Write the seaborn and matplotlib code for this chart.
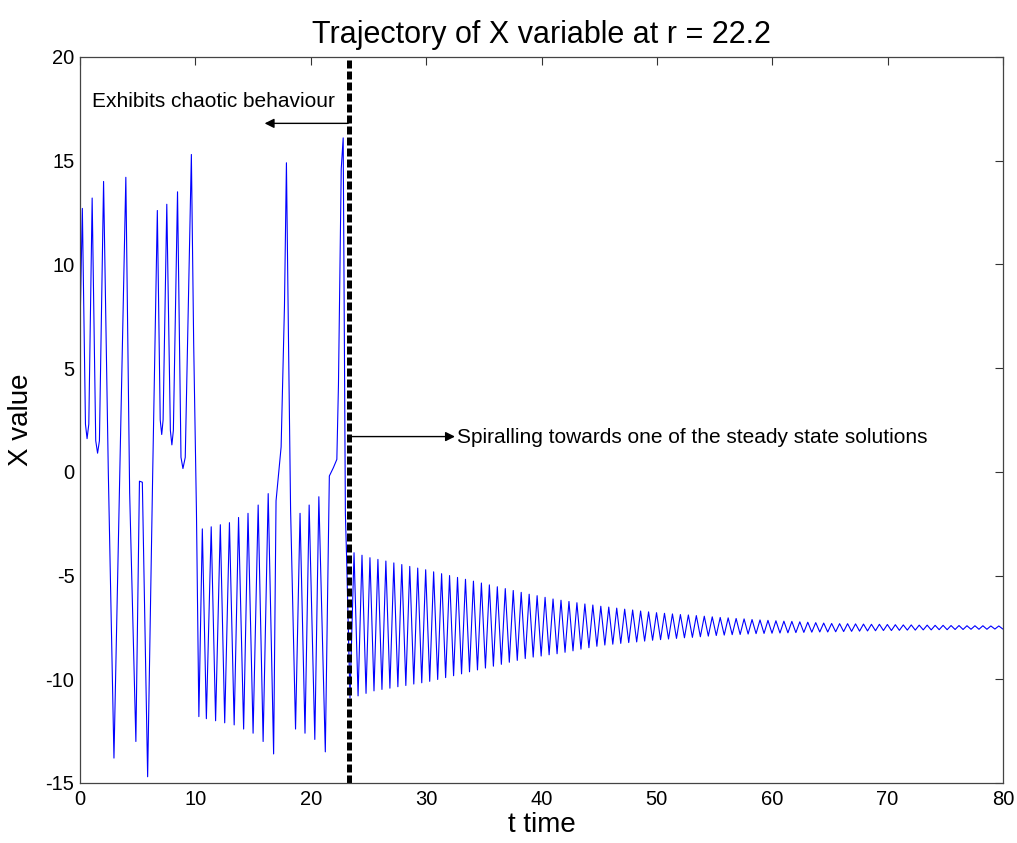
import numpy as np
import pandas as pd
import matplotlib
matplotlib.use("Agg")
import matplotlib.pyplot as plt
import seaborn as sns

# Lorenz x(t) at r = 22.2, read off the picture as turning points
# chaotic part: (t, x) turning points and shoulders
chaos_t = [0.0, 0.2, 0.47, 0.61, 0.76, 1.05, 1.36, 1.52, 1.68, 2.04, 2.45, 2.94,
           3.45, 3.97, 4.3, 4.84, 5.15, 5.4, 5.86, 6.3, 6.7, 6.95, 7.08, 7.2,
           7.52, 7.83, 7.96, 8.09, 8.45, 8.75, 8.92, 9.12, 9.65, 9.85,
           10.09, 10.3, 10.6, 10.95, 11.37, 11.75, 12.16, 12.54, 12.95, 13.36,
           13.74, 14.18, 14.56, 15.0, 15.44, 15.87, 16.31, 16.78, 16.99, 17.19,
           17.43, 17.72, 17.89, 18.07, 18.25, 18.68, 19.07, 19.5, 19.86, 20.35,
           20.7, 21.26, 21.61, 21.96, 22.26, 22.4, 22.64, 22.81, 23.0, 23.1, 23.4]
chaos_x = [7.0, 12.7, 2.3, 1.6, 2.3, 13.2, 1.5, 0.9, 1.5, 14.0, 0.0, -13.8,
           0.0, 14.2, -1.0, -13.0, -0.45, -0.5, -14.7, 0.0, 12.6, 2.5, 1.8, 2.5,
           12.9, 2.0, 1.3, 2.0, 13.5, 0.7, 0.16, 0.7, 15.3, 6.2,
           -1.9, -11.8, -2.75, -11.9, -2.65, -12.0, -2.55, -12.1, -2.45, -12.2,
           -2.2, -12.4, -2.0, -12.6, -1.6, -13.0, -1.05, -13.6, -1.4, -0.2,
           1.2, 8.0, 14.9, 6.3, -1.8, -12.4, -2.0, -12.6, -1.6, -12.9,
           -1.2, -13.5, -0.2, 0.2, 0.6, 4.2, 14.6, 16.1, -2.0, -4.0, -10.9]

# spiralling part: upper and lower turning points
peak_t = [23.75, 24.44, 25.13, 25.82, 26.51, 27.20, 27.89, 28.58, 29.27, 29.96,
          30.65, 31.34, 32.03, 32.72, 33.41, 34.10, 34.79, 35.48, 36.17, 36.86,
          37.55, 38.24, 38.93, 39.62, 40.31, 41.00, 41.69, 42.38, 43.07, 43.76,
          44.45, 45.14, 45.83, 46.52, 47.21, 47.90, 48.59, 49.28, 49.97, 50.66,
          51.35, 52.04, 52.73, 53.42, 54.11, 54.80, 55.49, 56.18, 56.87, 57.56,
          58.25, 58.94, 59.63, 60.32, 61.01, 61.70, 62.39, 63.08, 63.77, 64.46,
          65.15, 65.84, 66.53, 67.22, 67.91, 68.60, 69.29, 69.98, 70.67, 71.36,
          72.05, 72.74, 73.43, 74.12, 74.81, 75.50, 76.19, 76.88, 77.57, 78.26,
          78.95, 79.64]
peak_x = [-3.90, -4.02, -4.14, -4.22, -4.30, -4.39, -4.47, -4.56, -4.64, -4.72,
          -4.82, -4.91, -5.00, -5.09, -5.18, -5.27, -5.36, -5.45, -5.54, -5.63,
          -5.72, -5.81, -5.90, -5.97, -6.05, -6.13, -6.19, -6.25, -6.31, -6.37,
          -6.42, -6.48, -6.52, -6.57, -6.62, -6.66, -6.71, -6.75, -6.79, -6.82,
          -6.85, -6.88, -6.90, -6.93, -6.96, -6.99, -7.02, -7.04, -7.07, -7.09,
          -7.12, -7.14, -7.16, -7.18, -7.20, -7.21, -7.23, -7.25, -7.27, -7.29,
          -7.31, -7.32, -7.32, -7.33, -7.34, -7.35, -7.35, -7.36, -7.37, -7.38,
          -7.38, -7.39, -7.39, -7.40, -7.40, -7.41, -7.41, -7.42, -7.42, -7.42,
          -7.43, -7.43]
trough_t = [24.10, 24.79, 25.48, 26.17, 26.86, 27.55, 28.24, 28.93, 29.62, 30.31,
            31.00, 31.69, 32.38, 33.07, 33.76, 34.45, 35.14, 35.83, 36.52, 37.21,
            37.90, 38.59, 39.28, 39.97, 40.66, 41.35, 42.04, 42.73, 43.42, 44.11,
            44.80, 45.49, 46.18, 46.87, 47.56, 48.25, 48.94, 49.63, 50.32, 51.01,
            51.70, 52.39, 53.08, 53.77, 54.46, 55.15, 55.84, 56.53, 57.22, 57.91,
            58.60, 59.29, 59.98, 60.67, 61.36, 62.05, 62.74, 63.43, 64.12, 64.81,
            65.50, 66.19, 66.88, 67.57, 68.26, 68.95, 69.64, 70.33, 71.02, 71.71,
            72.40, 73.09, 73.78, 74.47, 75.16, 75.85, 76.54, 77.23, 77.92, 78.61,
            79.30, 79.99]
trough_x = [-10.80, -10.68, -10.56, -10.49, -10.43, -10.36, -10.30, -10.23, -10.17, -10.10,
            -10.01, -9.92, -9.83, -9.74, -9.64, -9.55, -9.46, -9.37, -9.28, -9.18,
            -9.09, -9.00, -8.93, -8.88, -8.82, -8.77, -8.70, -8.63, -8.55, -8.48,
            -8.41, -8.35, -8.31, -8.27, -8.23, -8.20, -8.16, -8.12, -8.09, -8.06,
            -8.03, -8.00, -7.98, -7.95, -7.92, -7.89, -7.87, -7.85, -7.84, -7.82,
            -7.80, -7.79, -7.78, -7.77, -7.76, -7.75, -7.74, -7.73, -7.72, -7.72,
            -7.71, -7.70, -7.69, -7.68, -7.67, -7.66, -7.65, -7.65, -7.64, -7.63,
            -7.63, -7.62, -7.62, -7.61, -7.61, -7.60, -7.60, -7.59, -7.59, -7.59,
            -7.58, -7.58]

t_switch = 23.34  # where the dashed divider sits

# build one table from the lists above
spiral = pd.DataFrame({"t": peak_t + trough_t, "x": peak_x + trough_x})
df = pd.concat([pd.DataFrame({"t": chaos_t, "x": chaos_x}), spiral])
df = df.sort_values("t").reset_index(drop=True)

sns.set_style("white")
plt.rcParams["font.family"] = ["Liberation Sans", "DejaVu Sans"]
plt.rcParams["axes.unicode_minus"] = False
plt.rcParams["text.color"] = "black"
plt.rcParams["axes.labelcolor"] = "black"
plt.rcParams["xtick.color"] = "black"
plt.rcParams["ytick.color"] = "black"
plt.rcParams["xtick.direction"] = "in"
plt.rcParams["ytick.direction"] = "in"

fig = plt.figure(figsize=(10.17, 8.43), dpi=100)
ax = fig.add_axes([0.0787, 0.0712, 0.9075, 0.8612])

sns.lineplot(data=df, x="t", y="x", ax=ax, color="#0000ff", linewidth=0.8,
             estimator=None, sort=False)

# dashed divider
ax.axvline(t_switch, color="black", linewidth=3.6, linestyle=(0, (1.6, 0.6)))

# annotations
ax.annotate("", xy=(16.0, 16.8), xytext=(t_switch - 0.1, 16.8),
            arrowprops=dict(arrowstyle="-|>", color="black", lw=1.0,
                            mutation_scale=14, shrinkA=0, shrinkB=0))
ax.text(1.04, 17.85, "Exhibits chaotic behaviour", fontsize=15, va="center", ha="left")
ax.annotate("", xy=(32.5, 1.7), xytext=(t_switch + 0.2, 1.7),
            arrowprops=dict(arrowstyle="-|>", color="black", lw=1.0,
                            mutation_scale=14, shrinkA=0, shrinkB=0))
ax.text(32.67, 1.65, "Spiralling towards one of the steady state solutions",
        fontsize=15, va="center", ha="left")

ax.set_xlim(0, 80)
ax.set_ylim(-15, 20)
ax.set_xticks(np.arange(0, 81, 10))
ax.set_yticks(np.arange(-15, 21, 5))
ax.tick_params(axis="both", which="both", direction="in", length=6, width=0.8,
               labelsize=14.5, top=True, right=True, color="#333333")
ax.tick_params(axis="x", pad=5)
ax.tick_params(axis="y", pad=4)
for s in ax.spines.values():
    s.set_visible(True)
    s.set_color("#444444")
    s.set_linewidth(0.9)

ax.set_title("Trajectory of X variable at r = 22.2", fontsize=22, pad=10)
ax.set_xlabel("t time", fontsize=20, labelpad=2)
ax.set_ylabel("X value", fontsize=20, labelpad=8)

fig.savefig("out.png", dpi=100)
